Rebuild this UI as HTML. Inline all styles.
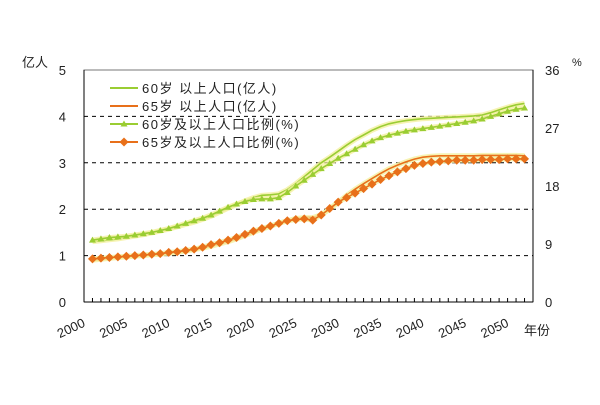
<!DOCTYPE html>
<html><head><meta charset="utf-8"><style>
body{margin:0;background:#fff;}
svg text{font-family:"Liberation Sans","Noto Sans CJK SC",sans-serif;}
</style></head><body>
<svg width="600" height="400" viewBox="0 0 600 400">
<g id="chart"></g>
</svg>
<script>
const years=[];for(let y=2001;y<=2052;y++)years.push(y);
const pop60=[1.30,1.32,1.34,1.36,1.39,1.42,1.45,1.49,1.53,1.57,1.62,1.67,1.72,1.78,1.85,1.93,2.02,2.10,2.18,2.25,2.30,2.31,2.33,2.42,2.55,2.70,2.85,3.0,3.12,3.25,3.38,3.50,3.60,3.70,3.78,3.84,3.88,3.91,3.93,3.95,3.96,3.97,3.98,3.99,4.00,4.01,4.03,4.08,4.14,4.20,4.25,4.28];
const pop65=[0.90,0.92,0.94,0.96,0.97,0.99,1.00,1.02,1.03,1.05,1.07,1.10,1.13,1.16,1.20,1.25,1.30,1.36,1.43,1.50,1.57,1.63,1.70,1.75,1.80,1.82,1.82,1.88,2.0,2.15,2.30,2.43,2.55,2.66,2.77,2.87,2.95,3.02,3.08,3.12,3.14,3.15,3.15,3.15,3.15,3.15,3.16,3.16,3.16,3.16,3.16,3.15];
const pct60=[9.6,9.8,10.0,10.1,10.2,10.4,10.6,10.8,11.1,11.4,11.8,12.2,12.6,13.0,13.5,14.1,14.7,15.2,15.6,15.9,16.0,16.0,16.2,17.0,18.0,18.9,19.8,20.7,21.5,22.3,23.0,23.7,24.4,25.0,25.5,25.9,26.2,26.5,26.7,26.9,27.1,27.3,27.5,27.7,27.9,28.1,28.4,28.8,29.2,29.6,29.9,30.1];
const pct65=[6.7,6.8,6.9,7.0,7.1,7.2,7.3,7.4,7.5,7.7,7.8,8.0,8.2,8.5,8.9,9.2,9.6,10.0,10.5,11.0,11.4,11.8,12.2,12.6,12.8,12.9,12.7,13.5,14.5,15.5,16.2,16.9,17.6,18.3,19.0,19.6,20.2,20.7,21.2,21.5,21.7,21.8,21.9,22.0,22.0,22.0,22.1,22.1,22.1,22.2,22.2,22.2];
const leftTicks=[0,1,2,3,4,5];
const rightTicks=[0,9,18,27,36];
const xLabels=[2000,2005,2010,2015,2020,2025,2030,2035,2040,2045,2050];
const legendLabels=["60岁 以上人口(亿人)","65岁 以上人口(亿人)","60岁及以上人口比例(%)","65岁及以上人口比例(%)"];

const X0=84,X1=533,Y0=302,Y1=70;
const xs=y=>X0+(y-2000)*(X1-X0)/53;
const yl=v=>Y0-v*(Y0-Y1)/5;
const yr=v=>Y0-v*(Y0-Y1)/36;
const NS="http://www.w3.org/2000/svg";
const g=document.getElementById('chart');
function mk(t,a,p){const e=document.createElementNS(NS,t);for(const k in a)e.setAttribute(k,a[k]);(p||g).appendChild(e);return e;}
const GREEN="#9acd32",ORANGE="#e8701a";

leftTicks.forEach(v=>{if(v>0&&v<5){const l=mk('line',{x1:X0,x2:X1,y1:yl(v),y2:yl(v),stroke:'#000','stroke-dasharray':'4,4','stroke-width':1});

}});
const frame=mk('rect',{x:X0,y:Y1,width:X1-X0,height:Y0-Y1,fill:'none',stroke:'#777','stroke-width':1});


mk('line',{x1:X0,x2:X0,y1:Y1,y2:Y0,stroke:'#000'});
mk('line',{x1:X1,x2:X1,y1:Y1,y2:Y0,stroke:'#000'});
mk('line',{x1:X0,x2:X1,y1:Y0,y2:Y0,stroke:'#000'});
for(let y=2000;y<=2053;y++){mk('line',{x1:xs(y),x2:xs(y),y1:Y0,y2:Y0-4,stroke:'#000'});}

leftTicks.forEach(v=>{const t=mk('text',{x:66,y:yl(v)+5,'font-size':13,'text-anchor':'end',fill:'#222'});t.textContent=v;

});
rightTicks.forEach(v=>{const t=mk('text',{x:545,y:yr(v)+5,'font-size':13,'text-anchor':'start',fill:'#222'});t.textContent=v;

});
xLabels.forEach(v=>{const x=xs(v)+2,y=Y0+24;const t=mk('text',{x:x,y:y,'font-size':13,'text-anchor':'end',fill:'#222',transform:`rotate(-25 ${x} ${y})`});t.textContent=v;

});
let t=mk('text',{x:22,y:67,'font-size':13,fill:'#222'});t.textContent='亿人';


t=mk('text',{x:572,y:66,'font-size':11,fill:'#222'});t.textContent='%';


t=mk('text',{x:524,y:335,'font-size':13,fill:'#222'});t.textContent='年份';



function path(arr,fy){return arr.map((v,i)=>(i?'L':'M')+xs(years[i]).toFixed(1)+','+fy(v).toFixed(1)).join('');}
function series(arr,fy,color,name,marker){
  const grp=mk('g',{});
  
  
  mk('path',{d:path(arr,fy),fill:'none',stroke:'#f4f0a0','stroke-width':5,opacity:0.8},grp);
  mk('path',{d:path(arr,fy),fill:'none',stroke:color,'stroke-width':1.6},grp);
  if(marker){arr.forEach((v,i)=>{const x=xs(years[i]),y=fy(v);let m;
    if(marker==='tri')m=mk('path',{d:`M${x},${y-3.5}L${x+3.5},${y+2.5}L${x-3.5},${y+2.5}Z`,fill:color},grp);
    else m=mk('path',{d:`M${x},${y-4.5}L${x+4.5},${y}L${x},${y+4.5}L${x-4.5},${y}Z`,fill:color},grp);
    
    });}
}
series(pop60,yl,GREEN,'series-pop60-line',null);
series(pop65,yl,ORANGE,'series-pop65-line',null);
series(pct60,yr,GREEN,'series-pct60',"tri");
series(pct65,yr,ORANGE,'series-pct65',"dia");

const lg=mk('g',{});


const ly=[88,106,124,142],lc=[GREEN,ORANGE,GREEN,ORANGE],lm=[null,null,'tri','dia'];
legendLabels.forEach((s,i)=>{
  const e=mk('g',{},lg);
  
  
  mk('line',{x1:110,x2:138,y1:ly[i],y2:ly[i],stroke:lc[i],'stroke-width':2},e);
  const x=124,y=ly[i];
  if(lm[i]==='tri')mk('path',{d:`M${x},${y-3.5}L${x+3.5},${y+2.5}L${x-3.5},${y+2.5}Z`,fill:lc[i]},e);
  if(lm[i]==='dia')mk('path',{d:`M${x},${y-4.5}L${x+4.5},${y}L${x},${y+4.5}L${x-4.5},${y}Z`,fill:lc[i]},e);
  const tx=mk('text',{x:142,y:ly[i]+5,'font-size':13,fill:'#222','letter-spacing':1.5},e);tx.textContent=s;
});
</script>
</body></html>
